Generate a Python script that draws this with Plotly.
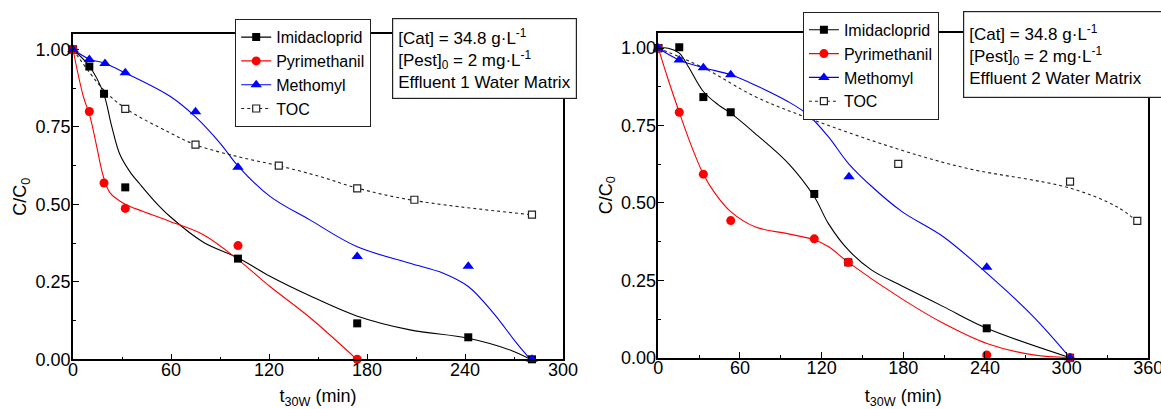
import plotly.graph_objects as go

# ---------------- Panel 1 (Effluent 1) ----------------
t1_imi = [0, 10, 19, 32, 101, 174, 242, 281]
v1_imi = [1.0, 0.945, 0.857, 0.555, 0.325, 0.116, 0.071, 0.0]
t1_pyr = [0, 10, 19, 32, 101, 174]
v1_pyr = [1.0, 0.80, 0.569, 0.487, 0.367, 0.0]
t1_met = [0, 10, 19.6, 32, 75, 101, 174, 242, 281]
v1_met = [1.0, 0.968, 0.955, 0.925, 0.799, 0.62, 0.332, 0.30, 0.0]
t1_toc = [0, 32, 75, 126, 174, 209, 281]
v1_toc = [1.0, 0.808, 0.693, 0.625, 0.552, 0.515, 0.467]

# fitted curves
fit1_imi_t = [0, 10, 18.6, 23.7, 28.8, 34.9, 41, 50, 59.4, 79.8, 101.2, 120.6, 145, 173.7, 206.3, 242, 267.6, 280]
fit1_imi_v = [1, 0.946, 0.86, 0.752, 0.66, 0.605, 0.565, 0.51, 0.461, 0.378, 0.327, 0.268, 0.205, 0.14, 0.095, 0.068, 0.03, 0]
fit1_pyr_t = [0, 6.3, 10.4, 14.5, 18.6, 22.7, 30.8, 43, 59.4, 79.8, 101.2, 120.6, 145, 173.7]
fit1_pyr_v = [1, 0.849, 0.784, 0.687, 0.59, 0.537, 0.504, 0.477, 0.445, 0.402, 0.321, 0.235, 0.135, 0]
fit1_met_t = [0, 10.4, 18.6, 31.8, 59.4, 74.7, 90, 101.2, 120.6, 145, 173.7, 206.3, 226.7, 242, 257.4, 271.6, 280]
fit1_met_v = [1, 0.968, 0.957, 0.925, 0.849, 0.784, 0.698, 0.623, 0.526, 0.45, 0.364, 0.31, 0.278, 0.235, 0.149, 0.052, 0]
fit1_toc_t = [0, 18.6, 31.8, 59.4, 74.7, 100.2, 125.7, 151.2, 173.7, 208.4, 280]
fit1_toc_v = [1, 0.871, 0.811, 0.731, 0.693, 0.655, 0.625, 0.59, 0.553, 0.513, 0.467]

# ---------------- Panel 2 (Effluent 2) ----------------
t2_imi = [0, 15.4, 33.1, 53.2, 114.6, 139.6, 241.3, 302.5]
v2_imi = [1.0, 1.003, 0.842, 0.793, 0.529, 0.308, 0.095, 0.0]
t2_pyr = [0, 15.4, 33.1, 53.2, 114.6, 139.6, 241.3, 302.5]
v2_pyr = [1.0, 0.793, 0.593, 0.443, 0.384, 0.308, 0.009, 0.0]
t2_met = [0, 15.4, 33.1, 53.2, 115.1, 140.1, 241.3, 302.5]
v2_met = [1.0, 0.962, 0.937, 0.914, 0.79, 0.585, 0.292, 0.0]
t2_toc = [0, 176.3, 302.5, 351.9]
v2_toc = [1.0, 0.626, 0.569, 0.442]

fit2_imi_t = [0, 7.3, 15.4, 22, 33.1, 44.1, 53.2, 71, 95.5, 114.6, 124.9, 139.6, 156.8, 179, 209.4, 241.3, 302.5]
fit2_imi_v = [1, 1.0, 0.984, 0.941, 0.86, 0.817, 0.79, 0.725, 0.628, 0.52, 0.434, 0.348, 0.283, 0.232, 0.165, 0.095, 0]
fit2_pyr_t = [0, 7.3, 15.4, 24.5, 33.1, 41.7, 53.2, 71, 95.5, 114.6, 124.9, 139.6, 179, 209.4, 241.3, 275.5, 302.5]
fit2_pyr_v = [1, 0.898, 0.793, 0.682, 0.593, 0.531, 0.472, 0.423, 0.4, 0.381, 0.359, 0.308, 0.19, 0.111, 0.046, 0.009, 0]
fit2_met_t = [0, 15.4, 33.1, 53.2, 71, 95.5, 110.2, 124.9, 139.6, 156.8, 179, 209.4, 241.3, 275.5, 302.5]
fit2_met_v = [1, 0.962, 0.937, 0.914, 0.881, 0.827, 0.784, 0.714, 0.628, 0.553, 0.472, 0.391, 0.273, 0.133, 0]
fit2_toc_t = [0, 33.1, 71, 110.2, 179, 226.6, 302.5, 336.8, 351.9]
fit2_toc_v = [1, 0.937, 0.844, 0.774, 0.67, 0.612, 0.548, 0.488, 0.44]

series_names = ["Imidacloprid", "Pyrimethanil", "Methomyl", "TOC"]
y_ticks = [0, 0.25, 0.5, 0.75, 1.0]
x1_ticks = [0, 60, 120, 180, 240, 300]
x2_ticks = [0, 60, 120, 180, 240, 300, 360]
box1_text = "[Cat] = 34.8 g·L<sup>-1</sup><br>[Pest]<sub>0</sub> = 2 mg·L<sup>-1</sup><br>Effluent 1 Water Matrix"
box2_text = "[Cat] = 34.8 g·L<sup>-1</sup><br>[Pest]<sub>0</sub> = 2 mg·L<sup>-1</sup><br>Effluent 2 Water Matrix"

FONT = "Arial, 'Liberation Sans', sans-serif"
W, H = 1161, 409

styles = [
    dict(color="#000000", symbol="square", size=8, dash="solid", fill="#000000", edge="#000000", ew=0),
    dict(color="#FF0000", symbol="circle", size=9, dash="solid", fill="#FF0000", edge="#FF0000", ew=0),
    dict(color="#0000FF", symbol="triangle-up", size=10, dash="solid", fill="#0000FF", edge="#0000FF", ew=0),
    dict(color="#222222", symbol="square", size=7, dash="dot", fill="#FFFFFF", edge="#222222", ew=1.2),
]

fig = go.Figure()

panels = [
    dict(xa="x", ya="y", legend="legend",
         data=[(t1_imi, v1_imi), (t1_pyr, v1_pyr), (t1_met, v1_met), (t1_toc, v1_toc)],
         fits=[(fit1_imi_t, fit1_imi_v), (fit1_pyr_t, fit1_pyr_v), (fit1_met_t, fit1_met_v), (fit1_toc_t, fit1_toc_v)]),
    dict(xa="x2", ya="y2", legend="legend2",
         data=[(t2_imi, v2_imi), (t2_pyr, v2_pyr), (t2_met, v2_met), (t2_toc, v2_toc)],
         fits=[(fit2_imi_t, fit2_imi_v), (fit2_pyr_t, fit2_pyr_v), (fit2_met_t, fit2_met_v), (fit2_toc_t, fit2_toc_v)]),
]

for p in panels:
    for i, (ft, fv) in enumerate(p["fits"]):
        st = styles[i]
        fig.add_trace(go.Scatter(
            x=ft, y=fv, mode="lines", xaxis=p["xa"], yaxis=p["ya"],
            line=dict(color=st["color"], width=1.1, dash=st["dash"], shape="spline", smoothing=1.0),
            showlegend=False, hoverinfo="skip"))
    for i in [3, 0, 1, 2]:
        t, v = p["data"][i]
        st = styles[i]
        fig.add_trace(go.Scatter(
            x=t, y=v, mode="markers", xaxis=p["xa"], yaxis=p["ya"], cliponaxis=False,
            marker=dict(symbol=st["symbol"], size=st["size"], color=st["fill"],
                        line=dict(color=st["edge"], width=st["ew"])),
            showlegend=False))
    for i, name in enumerate(series_names):
        st = styles[i]
        fig.add_trace(go.Scatter(
            x=[None], y=[None], mode="lines+markers", name=name, xaxis=p["xa"], yaxis=p["ya"],
            legend=p["legend"],
            line=dict(color=st["color"], width=1.1, dash=st["dash"]),
            marker=dict(symbol=st["symbol"], size=st["size"], color=st["fill"],
                        line=dict(color=st["edge"], width=st["ew"]))))

axis_common = dict(
    showline=True, linecolor="black", linewidth=1.5, mirror=True,
    ticks="inside", ticklen=6, tickwidth=1.2, tickcolor="black",
    showgrid=False, zeroline=False, automargin=False, ticklabeloverflow="allow",
    tickfont=dict(family=FONT, size=18, color="black"),
)
title_font = dict(size=18, family=FONT, color="black")
legend_font = dict(family=FONT, size=16, color="black")
box_font = dict(family=FONT, size=17, color="black")

fig.update_layout(
    template="none",
    width=W, height=H,
    margin=dict(l=0, r=0, t=0, b=0, pad=0, autoexpand=False),
    paper_bgcolor="white", plot_bgcolor="white",
    font=dict(family=FONT, color="black"),
    xaxis=dict(domain=[73 / W, 563 / W], range=[0, 300], tickvals=x1_ticks,
               minor=dict(dtick=30, ticks="inside", ticklen=3, tickcolor="black"),
               title=dict(text="t<sub>30W</sub> (min)", font=title_font, standoff=24),
               ticklabelstandoff=-7, anchor="y", **axis_common),
    yaxis=dict(domain=[1 - 359.3 / H, 1 - 34 / H], range=[0, 1.05], tickvals=y_ticks, tickformat=".2f",
               minor=dict(dtick=0.125, tick0=0, ticks="inside", ticklen=3, tickcolor="black"),
               title=dict(text="C/C<sub>0</sub>", font=title_font, standoff=4),
               ticklabelstandoff=-3, anchor="x", **axis_common),
    xaxis2=dict(domain=[658.3 / W, 1148.3 / W], range=[0, 360], tickvals=x2_ticks,
                minor=dict(dtick=30, ticks="inside", ticklen=3, tickcolor="black"),
                title=dict(text="t<sub>30W</sub> (min)", font=title_font, standoff=24),
                ticklabelstandoff=-7, anchor="y2", **axis_common),
    yaxis2=dict(domain=[1 - 357.7 / H, 1 - 32.7 / H], range=[0, 1.05], tickvals=y_ticks, tickformat=".2f",
                minor=dict(dtick=0.125, tick0=0, ticks="inside", ticklen=3, tickcolor="black"),
                title=dict(text="C/C<sub>0</sub>", font=title_font, standoff=4),
                ticklabelstandoff=-3, anchor="x2", **axis_common),
    legend=dict(x=235 / W, y=1 - 19 / H, xanchor="left", yanchor="top",
                bgcolor="white", bordercolor="#222222", borderwidth=1.2,
                font=legend_font, tracegroupgap=0, itemwidth=30),
    legend2=dict(x=802.7 / W, y=1 - 11.7 / H, xanchor="left", yanchor="top",
                 bgcolor="white", bordercolor="#222222", borderwidth=1.2,
                 font=legend_font, tracegroupgap=0, itemwidth=30),
    annotations=[
        dict(text=box1_text, xref="paper", yref="paper", x=392 / W, y=1 - 18 / H,
             xanchor="left", yanchor="top", align="left", valign="middle", showarrow=False,
             width=173, height=69,
             bgcolor="white", bordercolor="#222222", borderwidth=1.2, borderpad=5,
             font=box_font),
        dict(text=box2_text, xref="paper", yref="paper", x=963.3 / W, y=1 - 11 / H,
             xanchor="left", yanchor="top", align="left", valign="middle", showarrow=False,
             width=200, height=75,
             bgcolor="white", bordercolor="#222222", borderwidth=1.2, borderpad=5,
             font=box_font),
    ],
)

fig.write_html("out.html")
